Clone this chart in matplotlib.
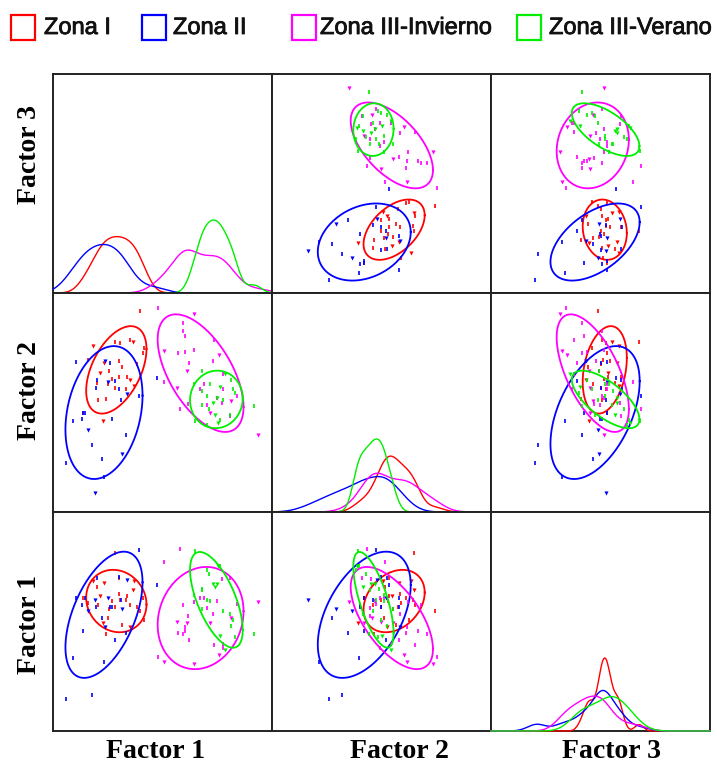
import numpy as np
import matplotlib
matplotlib.use("Agg")
import matplotlib.pyplot as plt
from matplotlib.patches import Rectangle
import matplotlib.patheffects as pe

# groups and colours
groups = ["Zona I", "Zona II", "Zona III-Invierno", "Zona III-Verano"]
colors = ["#ff0000", "#0000ff", "#ff00ff", "#00ee00"]

# factor scores (factor A, B, C per point)
zona1_a = [-0.62, -1.91, -1.30, -1.16, -0.89, -0.82, -0.51, -0.54, -2.03, -1.59, -1.19, -1.12, -0.69, -1.71,
           -1.46, -1.18, -1.39, -0.89, -1.80, -1.48, -1.00, -0.78, -1.76, -1.55, -2.17, -1.62, -0.96, -1.30]
zona1_b = [2.51, 1.55, 1.66, 1.64, 1.72, 1.66, 1.48, 1.35, 1.16, 1.09, 1.14, 0.98, 1.05, 0.82,
           0.86, 0.71, 0.65, 0.63, 0.54, 0.50, 0.38, 0.45, 0.08, 0.10, -0.28, -0.51, 0.71, 0.40]
zona1_c = [0.30, 1.10, 1.89, 0.60, 0.45, 0.85, 0.05, 0.65, 0.50, 1.05, 0.75, -0.10, 0.40, 0.70,
           0.35, 1.20, 0.55, -0.15, 0.95, 0.10, 0.60, 1.10, 0.45, -0.35, 0.65, -0.05, 0.70, 0.40]

zona2_a = [-2.37, -1.58, -1.45, -1.80, -1.82, -1.48, -1.30, -1.20, -1.15, -0.98, -2.44, -2.21, -2.12,
           -2.03, -1.37, -1.00, -1.94, -1.10, -1.67, -2.64, -1.60, -1.85, -0.16, -0.65, -2.17]
zona2_b = [1.10, 1.14, 1.07, 0.63, 0.40, 0.56, 0.59, 0.38, 0.08, 0.22, -0.50, -0.45, -0.30,
           -0.74, -0.45, -0.90, -1.16, -1.40, -1.55, -1.66, -2.05, -2.49, 0.68, 0.19, -0.28]
zona2_c = [0.65, -0.15, 0.40, 1.20, 0.40, 0.65, -0.50, 1.22, 0.60, 1.15, -1.00, 0.45, 0.64,
           0.30, 0.39, -0.31, -2.01, 0.35, 0.10, -2.13, -1.10, 0.60, 1.00, 1.95, -0.25]

zona3i_a = [-0.13, 0.86, 0.55, 0.57, 1.40, 0.04, 0.43, 0.62, 0.87, 1.55, 1.39, 0.73, 0.05, 0.68, 1.14,
            1.67, 1.48, 1.89, 0.48, 1.21, 1.85, 2.63, 1.03, 1.65, 0.62, 1.30, 1.62, 0.70, 2.03, 0.40]
zona3i_b = [2.59, 2.42, 2.19, 1.96, 1.72, 1.41, 1.35, 1.39, 1.43, 1.30, 1.14, 1.07, 0.55, 0.86, 0.50,
            0.77, 0.13, 0.04, -0.17, -0.06, -0.36, -0.88, 0.36, 0.36, 1.83, -0.28, -0.01, -0.05, 0.17, 0.40]
zona3i_c = [-0.96, -1.17, -0.33, 0.44, -0.64, -1.10, -0.31, -0.14, 0.53, -0.91, 0.21, -0.51, 1.64, -0.05, 0.65,
            -0.63, 0.55, 0.09, 1.98, 0.38, 1.18, 0.54, 0.65, -0.72, -0.25, -0.03, 1.17, 0.14, 0.47, -0.02]

zona3v_a = [1.07, 1.71, 1.89, 0.86, 1.30, 1.58, 1.07, 1.92, 1.21, 1.48, 1.67,
            1.07, 1.28, 1.44, 1.58, 0.89, 1.21, 1.53, 1.85, 2.51, 1.99, 1.37]
zona3v_b = [0.86, 0.77, 0.63, 0.50, 0.50, 0.43, 0.31, 0.38, 0.17, 0.13, 0.08,
            -0.06, -0.19, -0.33, -0.47, -0.51, -0.61, -0.56, -0.33, -0.10, 0.27, -0.01]
zona3v_c = [0.33, -0.79, -0.12, 0.73, 0.57, -0.41, 0.88, 0.05, 0.58, 1.03, 0.28,
            0.85, 1.29, 0.94, 1.51, 1.93, 1.41, 1.52, 0.20, -0.33, -0.42, 1.02]

data = [
    [zona1_a, zona1_b, zona1_c],
    [zona2_a, zona2_b, zona2_c],
    [zona3i_a, zona3i_b, zona3i_c],
    [zona3v_a, zona3v_b, zona3v_c],
]

row_labels = ["Factor 3", "Factor 2", "Factor 1"]
col_labels = ["Factor 1", "Factor 2", "Factor 3"]

# axis ranges: rows (y) and columns (x)
row_lims = [(-3, 3), (-3, 3), (-3, 3)]
col_lims = [(-3, 3), (-3.89, 4.69), (-3.85, 4.64)]
ELLIPSE_LEVEL = 0.80
BW_ADJUST = 1.1


def kde(x, grid):
    x = np.asarray(x)
    n = len(x)
    sd = x.std(ddof=1)
    iqr = np.subtract(*np.percentile(x, [75, 25]))
    bw = BW_ADJUST * 0.9 * min(sd, iqr / 1.34) * n ** -0.2
    z = (grid[:, None] - x[None, :]) / bw
    return np.exp(-0.5 * z ** 2).sum(1) / (n * bw * np.sqrt(2 * np.pi))


def ellipse(x, y, level):
    x = np.asarray(x)
    y = np.asarray(y)
    m = np.array([x.mean(), y.mean()])
    L = np.linalg.cholesky(np.cov(x, y))
    r = np.sqrt(-2 * np.log(1 - level))
    t = np.linspace(0, 2 * np.pi, 200)
    pts = m[:, None] + r * L @ np.vstack([np.cos(t), np.sin(t)])
    return pts[0], pts[1]


W, H = 717, 765
fig = plt.figure(figsize=(W / 100, H / 100), dpi=100)

x0, y0, size = 53, 74, 219
for r in range(3):
    for c in range(3):
        ax = fig.add_axes([(x0 + c * size) / W, 1 - (y0 + (r + 1) * size) / H, size / W, size / H])
        ax.set_xticks([])
        ax.set_yticks([])
        for sp in ax.spines.values():
            sp.set_linewidth(1.4)
            sp.set_color("#222222")
        ax.set_xlim(col_lims[c])
        if r == c:
            grid = np.linspace(col_lims[c][0], col_lims[c][1], 300)
            top = 0
            for g, col in zip(data, colors):
                d = kde(g[c], grid)
                top = max(top, d.max())
                ax.plot(grid, d, color=col, lw=1.0, zorder=3, clip_on=False)
            ax.set_ylim(0, top * 3.0)
        else:
            ax.set_ylim(row_lims[r])
            for g, col in zip(data, colors):
                xs = np.asarray(g[c])
                ys = np.asarray(g[r])
                idx = np.arange(len(xs))
                tri = idx % 4 == 1
                ax.plot(xs[~tri], ys[~tri], ls="none", marker="|", ms=3.2, mew=1.2, color=col)
                ax.plot(xs[tri], ys[tri], ls="none", marker="v", ms=3.0, mew=0, color=col)
                ex, ey = ellipse(xs, ys, ELLIPSE_LEVEL)
                ax.plot(ex, ey, color=col, lw=1.3)

# factor labels
serif = dict(family="Liberation Serif", fontweight="bold", fontsize=20, color="black")
for x, lab in zip([155, 400, 612], col_labels):
    fig.text(x / W, 1 - 752 / H, lab, ha="center", va="center", **serif)
for y, lab in zip([155, 390, 625], row_labels):
    fig.text(29 / W, 1 - y / H, lab, ha="center", va="center", rotation=90, **serif)

# legend
box_x = [11, 142, 292, 517]
text_x = [44, 173, 320, 549]
for bx, tx, lab, col in zip(box_x, text_x, groups, colors):
    fig.patches.append(Rectangle((bx / W, 1 - 40 / H), 24 / W, 25 / H, transform=fig.transFigure,
                                 facecolor="none", edgecolor=col, lw=1.6))
    fig.text(tx / W, 1 - 28 / H, lab, ha="left", va="center", family="Liberation Sans",
             fontsize=17, color="#111111",
             path_effects=[pe.withStroke(linewidth=0.6, foreground="#111111")])

fig.savefig("out.png", dpi=100)
